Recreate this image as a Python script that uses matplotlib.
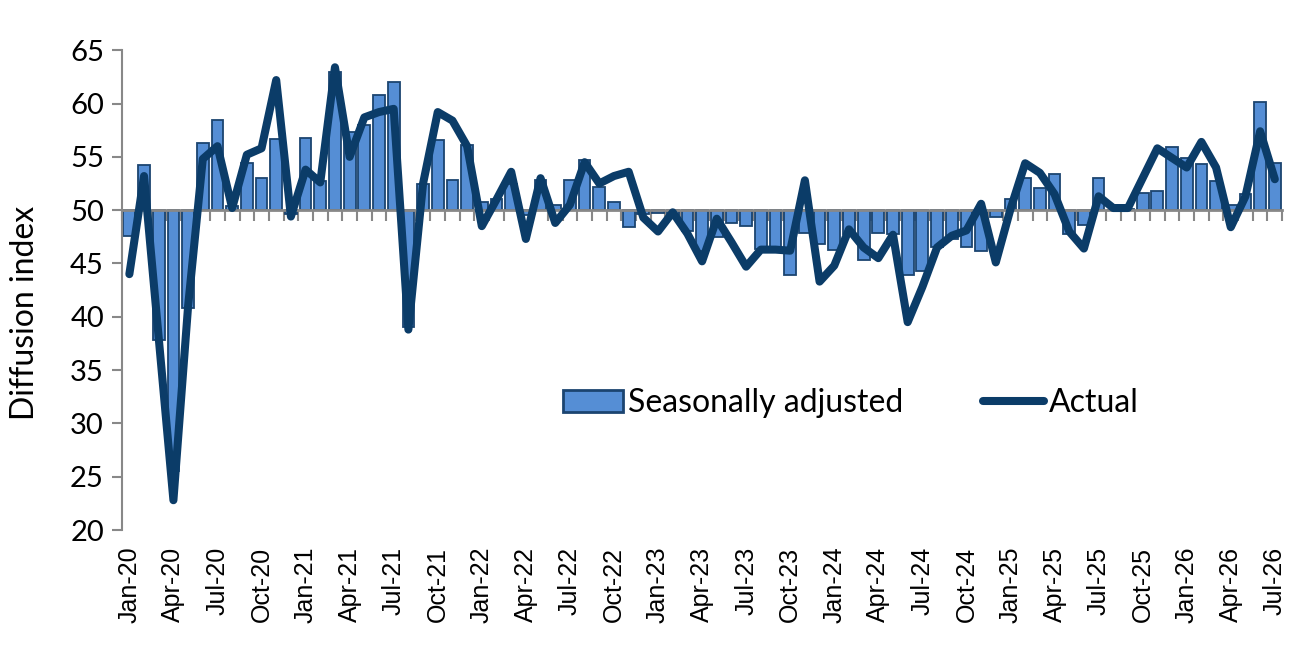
import numpy as np
import pandas as pd
import matplotlib
matplotlib.use('Agg')
import matplotlib.pyplot as plt

plt.rcParams['font.family'] = ['Lato', 'DejaVu Sans']

months = pd.date_range('2020-01-01', '2026-07-01', freq='MS')
month_labels = [d.strftime('%b-%y') for d in months]

seasonally_adjusted = [
    47.6, 54.2, 37.8, 25.5, 40.8, 56.3, 58.5, 50.4, 54.4, 53.0, 56.7, 49.6,
    56.8, 52.7, 63.0, 57.3, 58.0, 60.8, 62.0, 39.0, 52.5, 56.6, 52.8, 56.1,
    50.8, 51.0, 52.5, 49.5, 52.8, 50.5, 52.8, 54.7, 52.2, 50.8, 48.4, 49.6,
    49.7, 49.5, 48.0, 46.2, 47.5, 48.8, 48.5, 46.4, 46.4, 43.9, 47.9, 46.8,
    46.3, 47.8, 45.3, 47.9, 47.8, 43.9, 44.3, 46.5, 47.3, 46.5, 46.2, 49.4,
    51.0, 53.0, 52.1, 53.4, 47.8, 48.6, 53.0, 50.0, 50.1, 51.6, 51.8, 55.9,
    54.9, 54.3, 52.7, 50.5, 51.5, 60.1, 54.4,
]
actual = [
    44.0, 53.2, 38.0, 22.8, 41.0, 54.8, 56.0, 50.2, 55.2, 55.8, 62.2, 49.4,
    53.8, 52.6, 63.4, 55.0, 58.7, 59.2, 59.5, 38.8, 52.5, 59.2, 58.4, 56.0,
    48.5, 51.0, 53.6, 47.3, 53.0, 48.8, 50.5, 54.5, 52.5, 53.2, 53.6, 49.3,
    48.0, 49.8, 47.8, 45.2, 49.2, 47.0, 44.7, 46.3, 46.3, 46.2, 52.8, 43.3,
    44.8, 48.2, 46.5, 45.5, 47.7, 39.5, 42.8, 46.5, 47.6, 48.1, 50.6, 45.1,
    50.1, 54.4, 53.5, 51.5, 48.0, 46.4, 51.3, 50.2, 50.2, 53.0, 55.8, 54.9,
    54.0, 56.4, 54.0, 48.4, 51.3, 57.4, 52.9,
]
baseline = 50

x = np.arange(len(months))
sa = np.array(seasonally_adjusted)

fig = plt.figure(figsize=(13.05, 6.52), dpi=100)
ax = fig.add_axes([0.0935, 0.187, 0.889, 0.736])

bars = ax.bar(x, sa - baseline, bottom=baseline, width=0.8, color='#558ED5',
              edgecolor='#1B4470', linewidth=1.3, label='Seasonally adjusted', zorder=2)
line, = ax.plot(x, actual, color='#0B3C68', linewidth=5.8, solid_capstyle='round',
                solid_joinstyle='round', label='Actual', zorder=3)

ax.set_xlim(-0.5, len(months) - 0.5)
ax.set_ylim(20, 65)
ax.set_yticks(np.arange(20, 66, 5))
ax.tick_params(axis='y', labelsize=21, length=7, width=1.5, color='#888888', pad=6)
ax.set_ylabel('Diffusion index', fontsize=23)
ax.yaxis.set_label_coords(-0.071, 0.452)

# horizontal axis sits at the 50 line
for s in ['top', 'right']:
    ax.spines[s].set_visible(False)
ax.spines['left'].set_color('#888888')
ax.spines['left'].set_linewidth(1.5)
ax.spines['bottom'].set_position(('data', baseline))
ax.spines['bottom'].set_color('#888888')
ax.spines['bottom'].set_linewidth(2)
ax.spines['bottom'].set_zorder(2.5)
ax.set_xticks(np.arange(-0.5, len(months), 1))
ax.set_xticklabels([])
ax.tick_params(axis='x', length=8, width=1.5, color='#888888', direction='out')

# labels along the bottom
sec = ax.secondary_xaxis('bottom')
sec.set_xticks(x[::3])
sec.set_xticklabels(month_labels[::3], rotation=90, fontsize=18,
                    family=['Liberation Sans', 'DejaVu Sans'])
sec.spines['bottom'].set_visible(False)
sec.tick_params(length=0, pad=12)

leg = ax.legend([bars, line], ['Seasonally adjusted', 'Actual'], loc='center',
                bbox_to_anchor=(0.628, 0.265), ncol=2, frameon=False,
                fontsize=23, handlelength=1.9, handletextpad=0.15, columnspacing=2.5)
leg.legend_handles[0].set_linewidth(2)

fig.savefig('out.png', dpi=100)
